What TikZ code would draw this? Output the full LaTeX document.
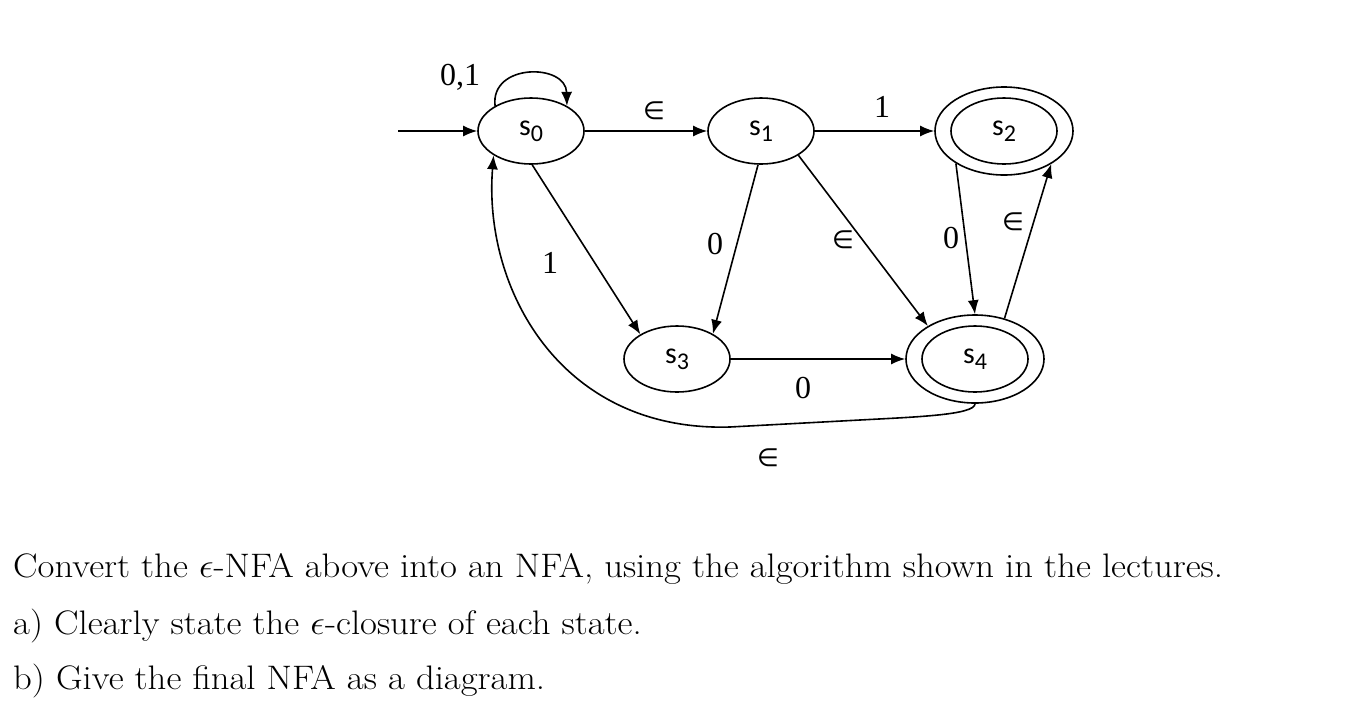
\RequirePackage{fix-cm}
\documentclass[tikz,border=0pt]{standalone}
\usepackage{fontspec}
\newfontfamily\carlito{Carlito}
\newfontfamily\lserif{Liberation Serif}
\newfontfamily\dvsans{DejaVu Sans}
\usetikzlibrary{shapes.geometric,arrows.meta}
\newcommand{\stlab}[1]{{\carlito\fontsize{30}{32}\selectfont s\raisebox{-6pt}{\fontsize{24}{26}\selectfont #1}}}
\tikzset{
  state/.style={ellipse, draw, line width=1.6pt, minimum width=106pt, minimum height=66pt, inner sep=0pt},
  outerst/.style={ellipse, draw, line width=1.6pt, minimum width=138pt, minimum height=88pt, inner sep=0pt},
  edge/.style={line width=1.6pt, -{Latex[length=14pt,width=11pt]}},
  lab/.style={inner sep=0pt, font=\lserif\fontsize{32}{34}\selectfont},
  eps/.style={inner sep=0pt, font=\dvsans\fontsize{25}{27}\selectfont},
  para/.style={anchor=base west, inner sep=0pt, font=\fontsize{34}{40}\selectfont}
}
\begin{document}
\begin{tikzpicture}[x=1pt,y=-1pt]
\useasboundingbox (0,0) rectangle (1360,702);
% states
\node[state] (s0) at (531,131) {\stlab{0}};
\node[state] (s1) at (761,131) {\stlab{1}};
\node[state] (s3) at (677,359) {\stlab{3}};
\node[outerst] (s2) at (1004,131) {};
\node[state] (s2i) at (1004,131) {\stlab{2}};
\node[outerst] (s4) at (975,359) {};
\node[state] (s4i) at (975,359) {\stlab{4}};
\coordinate (start) at (398,131);
% edges
\draw[edge] (start) -- (s0.west);
\draw[edge] (s0.145) .. controls (490,63) and (566,63) .. (s0.35);
\draw[edge] (s0.east) -- (s1.west);
\draw[edge] (s1.east) -- (s2.west);
\draw[edge] (s0.-88) -- (s3.146);
\draw[edge] (s1.-95) -- (s3.35);
\draw[edge] (s1.-33) -- (s4.145);
\draw[edge] (s2.-146) -- (s4.90);
\draw[edge] (s4.54) -- (s2.-35);
\draw[edge] (s3.east) -- (s4.west);
\draw[edge] (s4.-90) .. controls (975,415) and (915,417) .. (860,420)
  -- (730,427) .. controls (560,432) and (483,288) .. (s0.-147);
% labels
\node[lab] (l01) at (460,77) {0,1};
\node[eps] (le1) at (654,111) {∈};
\node[lab] (l1a) at (882,107) {1};
\node[lab] (l1b) at (550,263) {1};
\node[lab] (l0a) at (715,244) {0};
\node[eps] (le2) at (843,240) {∈};
\node[lab] (l0b) at (951,238) {0};
\node[eps] (le3) at (1013,222) {∈};
\node[lab] (l0c) at (803,388) {0};
\node[eps] (le4) at (768,458) {∈};
% text
\node[para] (t1) at (13,577) {\scalebox{1.08}[1]{Convert the $\epsilon$-NFA above into an NFA, using the algorithm shown in the lectures.}};
\node[para] (t2) at (13,634) {\scalebox{1.08}[1]{a) Clearly state the $\epsilon$-closure of each state.}};
\node[para] (t3) at (13,689) {\scalebox{1.08}[1]{b) Give the final NFA as a diagram.}};
\end{tikzpicture}
\end{document}
